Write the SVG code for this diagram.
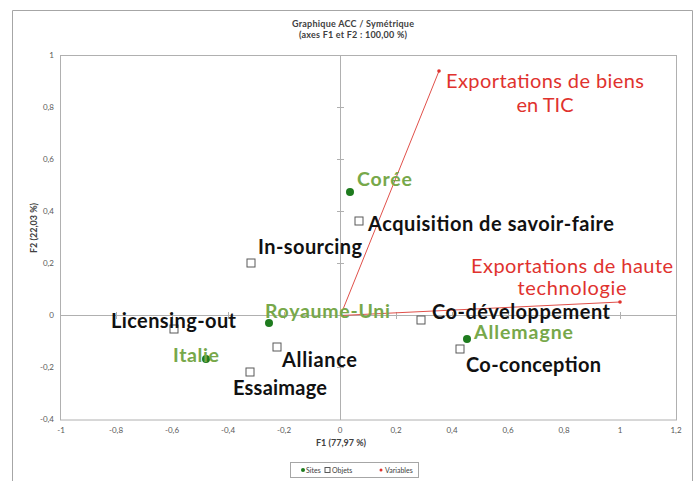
<svg xmlns="http://www.w3.org/2000/svg" width="699" height="481" viewBox="0 0 699 481">
<style>
.tick{font-family:Lato,"Liberation Sans",sans-serif;font-size:8px;fill:#595959}
.ax{font-family:Lato,"Liberation Sans",sans-serif;font-size:9px;font-weight:bold;fill:#404040}
.ttl{font-family:Lato,"Liberation Sans",sans-serif;font-size:9px;font-weight:bold;fill:#404040;text-anchor:middle}
.obj{font-family:Lato,"Liberation Sans",sans-serif;font-size:20px;font-weight:bold;fill:#111}
.site{font-family:Lato,"Liberation Sans",sans-serif;font-size:19.5px;font-weight:bold;fill:#77A84A}
.var{font-family:Lato,"Liberation Sans",sans-serif;font-size:20px;fill:#E0322E}
.leg{font-family:Lato,"Liberation Sans",sans-serif;font-size:7px;fill:#404040}
.sq{fill:#fff;stroke:#595959;stroke-width:1}
.dot{fill:#1E7B1E}
.vl{stroke:#E0504A;stroke-width:1;fill:none}
.grid{stroke:#B0B0B0;stroke-width:1;fill:none}
</style>
<rect width="699" height="481" fill="#fff"/>
<path d="M12.5,481 V10.5 H692.5 V481" fill="none" stroke="#A6A6A6" stroke-width="1"/>
<g id="title">
<text class="ttl" x="353" y="27" textLength="122">Graphique ACC / Symétrique</text>
<text class="ttl" x="353" y="38" textLength="108">(axes F1 et F2 : 100,00  %)</text>
</g>
<g id="axes">
<rect x="60.5" y="55.5" width="616" height="364.5" class="grid"/>
<line x1="340.5" y1="55.5" x2="340.5" y2="420" class="grid"/>
<line x1="60.5" y1="315.5" x2="676.5" y2="315.5" class="grid"/>
<g stroke="#B0B0B0" stroke-width="1">
<path d="M337,107.5h7M337,159.5h7M337,211.5h7M337,263.5h7M337,367.5h7"/>
<path d="M116.5,312v7M172.5,312v7M228.5,312v7M284.5,312v7M396.5,312v7M452.5,312v7M508.5,312v7M564.5,312v7M620.5,312v7"/>
</g>
<g class="tick" text-anchor="end">
<text x="54" y="58">1</text><text x="54" y="110">0,8</text><text x="54" y="162">0,6</text><text x="54" y="214">0,4</text>
<text x="54" y="266">0,2</text><text x="54" y="318">0</text><text x="54" y="370">-0,2</text><text x="54" y="422">-0,4</text>
</g>
<g class="tick" text-anchor="middle">
<text x="61" y="433">-1</text><text x="116" y="433">-0,8</text><text x="172" y="433">-0,6</text><text x="228" y="433">-0,4</text>
<text x="284" y="433">-0,2</text><text x="340" y="433">0</text><text x="396" y="433">0,2</text><text x="452" y="433">0,4</text>
<text x="508" y="433">0,6</text><text x="564" y="433">0,8</text><text x="620" y="433">1</text><text x="676" y="433">1,2</text>
</g>
<text class="ax" x="341" y="446" text-anchor="middle">F1 (77,97 %)</text>
<text class="ax" transform="translate(37,228) rotate(-90)" text-anchor="middle">F2 (22,03 %)</text>
</g>
<g id="connectors">
<line x1="340.5" y1="315.5" x2="439" y2="71" class="vl"/>
<line x1="340.5" y1="315.5" x2="620" y2="302" class="vl"/>
</g>
<g id="var-tic">
<circle cx="439" cy="71" r="1.8" fill="#E0322E"/>
<text class="var" x="545" y="88" text-anchor="middle" textLength="198">Exportations de biens</text>
<text class="var" x="545" y="112" text-anchor="middle" textLength="57">en TIC</text>
</g>
<g id="var-ht">
<circle cx="620" cy="302" r="1.8" fill="#E0322E"/>
<text class="var" x="572" y="273" text-anchor="middle" textLength="202">Exportations de haute</text>
<text class="var" x="572" y="295" text-anchor="middle" textLength="109">technologie</text>
</g>
<g id="coree"><circle cx="350" cy="192" r="4" class="dot"/><text class="site" x="357" y="186" textLength="55">Corée</text></g>
<g id="royaume-uni"><circle cx="269" cy="323" r="4" class="dot"/><text class="site" x="265" y="318" textLength="125">Royaume-Uni</text></g>
<g id="allemagne"><circle cx="467" cy="339" r="4" class="dot"/><text class="site" x="474" y="339" textLength="99">Allemagne</text></g>
<g id="italie"><circle cx="206" cy="359" r="4" class="dot"/><text class="site" x="173" y="361.5" textLength="46">Italie</text></g>
<g id="acquisition"><rect x="355" y="217" width="8" height="8" class="sq"/><text class="obj" x="368" y="231" textLength="246">Acquisition de savoir-faire</text></g>
<g id="in-sourcing"><rect x="247" y="259" width="8" height="8" class="sq"/><text class="obj" x="258" y="254" textLength="104">In-sourcing</text></g>
<g id="co-developpement"><rect x="417" y="316" width="8" height="8" class="sq"/><text class="obj" x="432" y="319" textLength="178">Co-développement</text></g>
<g id="co-conception"><rect x="456" y="345" width="8" height="8" class="sq"/><text class="obj" x="466" y="372" textLength="135">Co-conception</text></g>
<g id="licensing-out"><rect x="170" y="325" width="8" height="8" class="sq"/><text class="obj" x="111" y="328" textLength="125">Licensing-out</text></g>
<g id="alliance"><rect x="273" y="343" width="8" height="8" class="sq"/><text class="obj" x="282" y="367" textLength="75">Alliance</text></g>
<g id="essaimage"><rect x="246" y="368" width="8" height="8" class="sq"/><text class="obj" x="233" y="395" textLength="94">Essaimage</text></g>
<g id="legend">
<rect x="290.5" y="462.5" width="128" height="15" fill="#fff" stroke="#A6A6A6"/>
<circle cx="303" cy="470" r="2" class="dot"/><text class="leg" x="306" y="472.5">Sites</text>
<rect x="325" y="467.5" width="5" height="5" class="sq"/><text class="leg" x="332" y="472.5">Objets</text>
<circle cx="381" cy="470" r="1.5" fill="#E0322E"/><text class="leg" x="385" y="472.5">Variables</text>
</g>
</svg>
